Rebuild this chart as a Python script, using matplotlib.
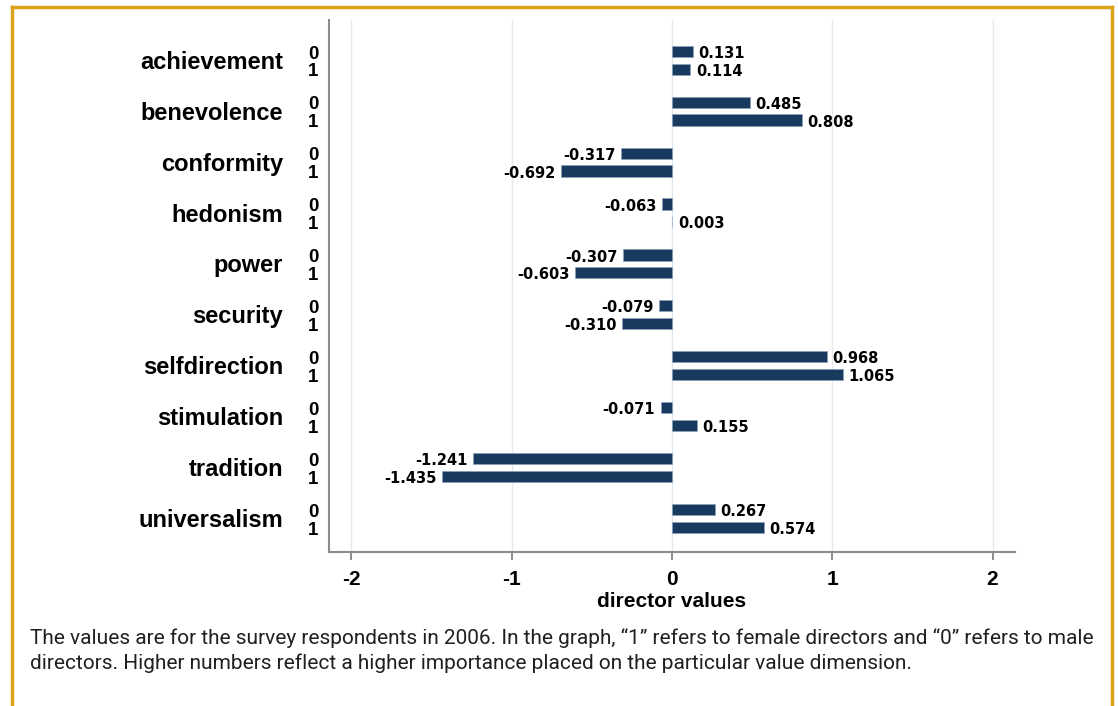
import matplotlib.pyplot as plt
import numpy as np

categories = ["achievement", "benevolence", "conformity", "hedonism", "power",
              "security", "selfdirection", "stimulation", "tradition", "universalism"]
male_0 = [0.131, 0.485, -0.317, -0.063, -0.307, -0.079, 0.968, -0.071, -1.241, 0.267]
female_1 = [0.114, 0.808, -0.692, 0.003, -0.603, -0.310, 1.065, 0.155, -1.435, 0.574]
group_labels = ["0", "1"]
xticks = [-2, -1, 0, 1, 2]
xlabel = "director values"
caption = ("The values are for the survey respondents in 2006. In the graph, \u201c1\u201d refers to female directors and \u201c0\u201d refers to male\n"
           "directors. Higher numbers reflect a higher importance placed on the particular value dimension.")

bar_color = "#173a5e"
W, H = 1118, 706
fig = plt.figure(figsize=(W / 100, H / 100), dpi=100)

# golden frame, open at the bottom
gold = "#d9a31a"
tr = fig.transFigure
fig.add_artist(plt.Line2D([12 / W, 12 / W], [0, 1 - 7 / H], color=gold, lw=2.5, transform=tr))
fig.add_artist(plt.Line2D([12 / W, 1112 / W], [1 - 7 / H, 1 - 7 / H], color=gold, lw=2.5, transform=tr))
fig.add_artist(plt.Line2D([1112 / W, 1112 / W], [0, 1 - 7 / H], color=gold, lw=2.5, transform=tr))

ax = fig.add_axes([329 / W, 1 - 552 / H, (1015 - 329) / W, (552 - 20) / H])

y = np.arange(len(categories))
off = 0.175
h = 0.22
ax.barh(y - off, male_0, height=h, color=bar_color, edgecolor="#8aa0b8", linewidth=0.4, zorder=3)
ax.barh(y + off, female_1, height=h, color=bar_color, edgecolor="#8aa0b8", linewidth=0.4, zorder=3)

for yy, vals in ((y - off, male_0), (y + off, female_1)):
    for yi, v in zip(yy, vals):
        dx, ha = (4, "left") if v >= 0 else (-4, "right")
        ax.annotate(f"{v:.3f}", (v, yi), xytext=(dx, -1.5), textcoords="offset points",
                    ha=ha, va="center", fontsize=10.5, fontweight="bold",
                    family="DejaVu Sans")

ax.set_xlim(-2.14, 2.14)
ax.set_ylim(9.66, -0.79)
ax.set_xticks(xticks)
ax.set_xticklabels([str(t) for t in xticks], fontsize=15, fontweight="bold",
                   family="Liberation Sans")
ax.tick_params(axis="x", direction="out", length=6, width=1.2, color="#7a7a7a", pad=7)
ax.set_yticks([])
ax.grid(axis="x", color="#e0eaf0", lw=1, zorder=0)
ax.set_xlabel(xlabel, fontsize=15, fontweight="bold", family="Liberation Sans", labelpad=2)
for s in ("top", "right"):
    ax.spines[s].set_visible(False)
for s in ("left", "bottom"):
    ax.spines[s].set_color("#8c8c8c")
    ax.spines[s].set_linewidth(1.5)

# category labels and 0/1 sub labels
for yi, cat in zip(y, categories):
    ax.annotate(cat, (0, yi), xycoords=("axes fraction", "data"), xytext=(-33, -1.5),
                textcoords="offset points", ha="right", va="center", fontsize=17,
                fontweight="bold", family="Liberation Sans")
    for k, lab in enumerate(group_labels):
        ax.annotate(lab, (0, yi + (off if k else -off)), xycoords=("axes fraction", "data"),
                    xytext=(-11.5, -2), textcoords="offset points", ha="center", va="center",
                    fontsize=13.5, fontweight="bold", family="Liberation Sans")

fig.text(30 / W, 1 - 651 / H, caption, ha="left", va="center", fontsize=15.0,
         family="Roboto", color="#231f20", linespacing=1.35)

fig.savefig("out.png", dpi=100)
